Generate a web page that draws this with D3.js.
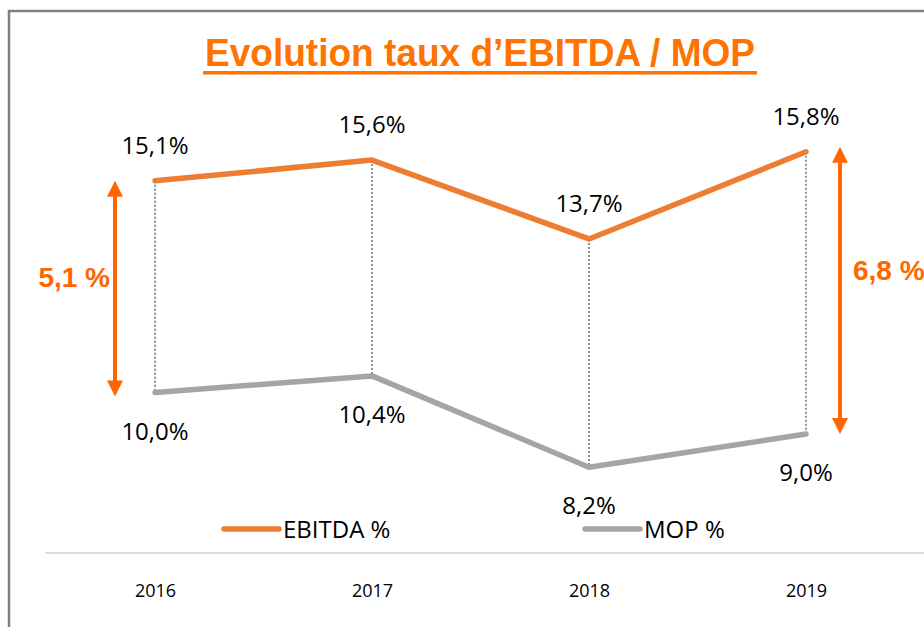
<!DOCTYPE html>
<html>
<head>
<meta charset="utf-8">
<script src="https://cdn.jsdelivr.net/npm/d3@7"></script>
<style>
  body { margin: 0; background: #fff; }
  svg { display: block; }
</style>
</head>
<body>
<div id="chart"></div>
<script>
// data
const years = ['2016', '2017', '2018', '2019'];
const ebitda = [15.1, 15.6, 13.7, 15.8];
const mop = [10.0, 10.4, 8.2, 9.0];
const seriesNames = ['EBITDA %', 'MOP %'];
// gaps shown with the arrows (first and last year)
const gapLabels = ['5,1 %', '6,8 %'];

const width = 924, height = 627;
const orange = '#ED7D31', grey = '#A5A5A5', accent = '#FF6600';
const fmt = v => v.toFixed(1).replace('.', ',') + '%';

const svg = d3.select('#chart').append('svg').attr('width', width).attr('height', height);

// frame
svg.append('path')
  .attr('d', `M9,${height} V11 H${width}`)
  .attr('fill', 'none').attr('stroke', '#808080').attr('stroke-width', 2.5);

// title
svg.append('text')
  .text('Evolution taux d\u2019EBITDA / MOP')
  .attr('x', 480).attr('y', 66)
  .attr('text-anchor', 'middle')
  .attr('font-family', '"Liberation Sans Narrow", "Liberation Sans", Arial, sans-serif')
  .attr('font-weight', 'bold').attr('font-size', 38)
  .attr('fill', '#FF7300')
  .attr('textLength', 550).attr('lengthAdjust', 'spacingAndGlyphs');
svg.append('rect').attr('x', 203).attr('y', 71).attr('width', 554).attr('height', 3.5).attr('fill', '#FF7300');

// scales
const x = d3.scalePoint().domain(years).range([155, 806]);
const y = d3.scaleLinear().domain([7, 17]).range([517, 102]);

// category axis
const axis = d3.axisBottom(x).tickSize(0).tickPadding(0);
const axisG = svg.append('g').attr('transform', 'translate(0,553)').call(axis);
axisG.select('.domain').remove();
axisG.append('line').attr('x1', 45).attr('x2', width).attr('stroke', '#D9DDE4').attr('stroke-width', 2);
axisG.selectAll('.tick text')
  .attr('y', 44).attr('dy', 0)
  .attr('font-family', '"Open Sans", sans-serif').attr('font-size', 18).attr('fill', '#000');

// drop lines
svg.append('g').selectAll('line').data(years).join('line')
  .attr('x1', d => x(d)).attr('x2', d => x(d))
  .attr('y1', (d, i) => y(ebitda[i])).attr('y2', (d, i) => y(mop[i]))
  .attr('stroke', '#7F93AD').attr('stroke-width', 2).attr('stroke-dasharray', '2,2');

// lines
const line = d3.line().x((d, i) => x(years[i])).y(d => y(d));
[[ebitda, orange], [mop, grey]].forEach(([vals, col]) => {
  svg.append('path').datum(vals).attr('d', line)
    .attr('fill', 'none').attr('stroke', col).attr('stroke-width', 5.5)
    .attr('stroke-linecap', 'round').attr('stroke-linejoin', 'round');
});

// data labels
const labelFont = '"Open Sans", sans-serif';
svg.append('g').selectAll('text').data(ebitda).join('text')
  .text(d => fmt(d))
  .attr('x', (d, i) => x(years[i])).attr('y', d => y(d) - 27)
  .attr('text-anchor', 'middle').attr('font-family', labelFont).attr('font-size', 24).attr('fill', '#000');
svg.append('g').selectAll('text').data(mop).join('text')
  .text(d => fmt(d))
  .attr('x', (d, i) => x(years[i])).attr('y', d => y(d) + 47)
  .attr('text-anchor', 'middle').attr('font-family', labelFont).attr('font-size', 24).attr('fill', '#000');

// legend
const legend = svg.append('g').attr('transform', 'translate(0,529)');
[[224, orange], [585, grey]].forEach(([lx, col], i) => {
  legend.append('line').attr('x1', lx).attr('x2', lx + 55)
    .attr('stroke', col).attr('stroke-width', 5.5).attr('stroke-linecap', 'round');
  legend.append('text').text(seriesNames[i])
    .attr('x', lx + 59).attr('y', 9)
    .attr('font-family', labelFont).attr('font-size', 24).attr('fill', '#000');
});

// gap arrows
const arrows = [
  { ax: 115, top: ebitda[0], bot: mop[0], label: gapLabels[0], tx: 110, anchor: 'end' },
  { ax: 840, top: ebitda[3], bot: mop[3], label: gapLabels[1], tx: 853, anchor: 'start' }
];
arrows.forEach(a => {
  const y1 = y(a.top), y2 = y(a.bot) + (a.ax < 400 ? 4 : 0);
  const yt = y1 - (a.ax < 400 ? 0 : 5);
  const g = svg.append('g');
  g.append('line').attr('x1', a.ax).attr('x2', a.ax).attr('y1', yt + 12).attr('y2', y2 - 12)
    .attr('stroke', accent).attr('stroke-width', 4);
  g.append('path').attr('d', `M${a.ax},${yt} L${a.ax - 8},${yt + 16} L${a.ax + 8},${yt + 16} Z`).attr('fill', accent);
  g.append('path').attr('d', `M${a.ax},${y2} L${a.ax - 8},${y2 - 16} L${a.ax + 8},${y2 - 16} Z`).attr('fill', accent);
  g.append('text').text(a.label)
    .attr('x', a.tx).attr('y', (yt + y2) / 2 + (a.ax < 400 ? -2 : -10))
    .attr('text-anchor', a.anchor)
    .attr('font-family', '"Liberation Sans", Arial, sans-serif').attr('font-weight', 'bold')
    .attr('font-size', 28).attr('fill', accent);
});
</script>
</body>
</html>
